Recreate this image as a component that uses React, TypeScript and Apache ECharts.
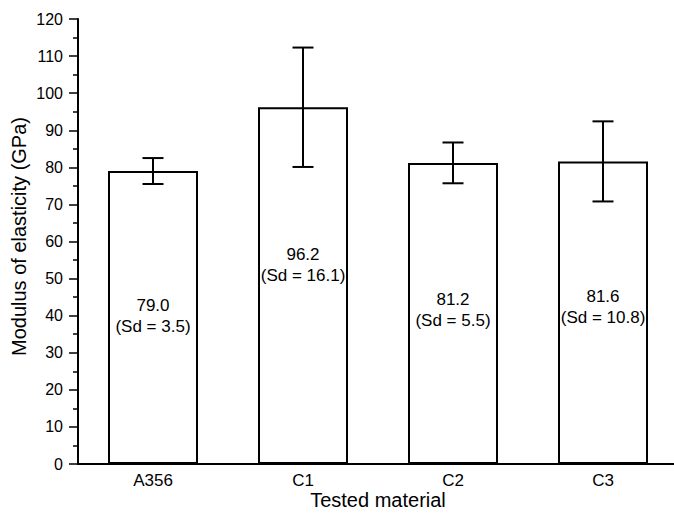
import React, { useEffect, useRef } from "react";
import * as echarts from "echarts";

const categories = ["A356", "C1", "C2", "C3"];
const meanValues = [79.0, 96.2, 81.2, 81.6];
const sdValues = [3.5, 16.1, 5.5, 10.8];
const yTickMin = 0;
const yTickMax = 120;
const yTickInterval = 10;

// vertical nudges (px) of the in-bar labels, as in the reference
const labelNudges = [-2, -21, -3, -6];

const FONT = "'Liberation Sans', Arial, Helvetica, sans-serif";

export default function App() {
  const ref = useRef<HTMLDivElement>(null);

  useEffect(() => {
    if (!ref.current) return;
    const chart = echarts.init(ref.current, undefined, { renderer: "svg" });

    const barData = meanValues.map((v, i) => ({
      value: v,
      label: { offset: [0, labelNudges[i]] },
    }));
    const errData = meanValues.map((v, i) => [i, v - sdValues[i], v + sdValues[i]]);

    chart.setOption({
      animation: false,
      backgroundColor: "#ffffff",
      textStyle: { fontFamily: FONT, color: "#000" },
      grid: {
        left: 78,
        top: 19,
        width: 600,
        height: 445,
        containLabel: false,
        outerBoundsMode: "none",
      },
      xAxis: [
        {
          type: "category",
          data: categories,
          position: "bottom",
          name: "Tested material",
          nameLocation: "middle",
          nameGap: 26,
          nameMoveOverlap: false,
          nameTextStyle: { fontSize: 20, lineHeight: 20, color: "#000", fontFamily: FONT },
          axisLine: { lineStyle: { color: "#000", width: 2 } },
          axisTick: { show: false },
          axisLabel: { fontSize: 17, color: "#000", margin: 8, fontFamily: FONT },
          splitLine: { show: false },
        },
        {
          type: "category",
          data: categories,
          position: "top",
          axisLine: { lineStyle: { color: "#000", width: 2 } },
          axisTick: { show: false },
          axisLabel: { show: false },
          splitLine: { show: false },
        },
      ],
      yAxis: [
        {
          type: "value",
          min: yTickMin,
          max: yTickMax,
          interval: yTickInterval,
          name: "Modulus of elasticity (GPa)",
          nameLocation: "middle",
          nameGap: 49,
          nameRotate: 90,
          nameMoveOverlap: false,
          nameTextStyle: { fontSize: 20, color: "#000", fontFamily: FONT, padding: [0, 0, 0, 10] },
          axisLine: { show: true, lineStyle: { color: "#000", width: 2 } },
          axisTick: { show: true, length: 9, lineStyle: { color: "#000", width: 1.5 } },
          minorTick: { show: true, splitNumber: 2, length: 5, lineStyle: { color: "#000", width: 1.5 } },
          axisLabel: { fontSize: 16, color: "#000", margin: 15, fontFamily: FONT },
          splitLine: { show: false },
          minorSplitLine: { show: false },
        },
        {
          type: "value",
          position: "right",
          min: yTickMin,
          max: yTickMax,
          interval: yTickInterval,
          axisLine: { show: true, lineStyle: { color: "#000", width: 2 } },
          axisTick: { show: false },
          axisLabel: { show: false },
          splitLine: { show: false },
        },
      ],
      series: [
        {
          type: "bar",
          data: barData,
          barWidth: "60%",
          itemStyle: { color: "#ffffff", borderColor: "#000", borderWidth: 2 },
          label: {
            show: true,
            position: "inside",
            fontSize: 17,
            lineHeight: 21,
            color: "#000",
            fontFamily: FONT,
            formatter: (p: any) =>
              `${meanValues[p.dataIndex].toFixed(1)}\n(Sd = ${sdValues[p.dataIndex].toFixed(1)})`,
          },
          z: 2,
        },
        {
          type: "custom",
          data: errData,
          z: 3,
          renderItem: (params: any, api: any) => {
            const x = api.value(0);
            const lo = api.coord([x, api.value(1)]);
            const hi = api.coord([x, api.value(2)]);
            const half = 10.5;
            const style = { stroke: "#000", lineWidth: 2, fill: "none" };
            return {
              type: "group",
              children: [
                { type: "line", shape: { x1: hi[0], y1: hi[1], x2: lo[0], y2: lo[1] }, style },
                { type: "line", shape: { x1: hi[0] - half, y1: hi[1], x2: hi[0] + half, y2: hi[1] }, style },
                { type: "line", shape: { x1: lo[0] - half, y1: lo[1], x2: lo[0] + half, y2: lo[1] }, style },
              ],
            };
          },
        },
      ],
    });

    return () => chart.dispose();
  }, []);

  return (
    <div
      ref={ref}
      style={{ position: "fixed", left: 0, top: 0, width: 674, height: 513, background: "#fff" }}
    />
  );
}
